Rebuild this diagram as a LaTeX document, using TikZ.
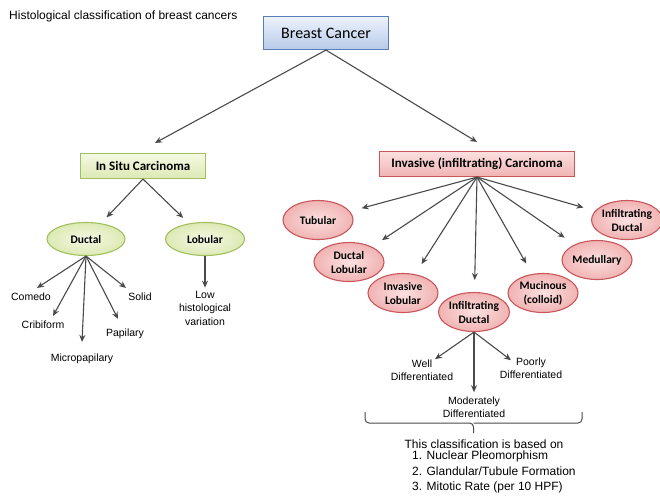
\documentclass[tikz,border=0pt]{standalone}
\usepackage{fontspec}
\setmainfont{Liberation Sans}
\newfontfamily\boxfont{Carlito}
\usepackage{xcolor}
\usepackage{tikz}
\usetikzlibrary{positioning, arrows.meta, shapes.geometric}

\definecolor{arrowgrey}{HTML}{4A4A4A}
\definecolor{bcdraw}{HTML}{5A7DB8}
\definecolor{bctop}{HTML}{EEF3FB}
\definecolor{bcbottom}{HTML}{B6CAEA}
\definecolor{gdraw}{HTML}{A2BF5E}
\definecolor{gtop}{HTML}{F4F9E4}
\definecolor{gbottom}{HTML}{DDE9B4}
\definecolor{pdraw}{HTML}{C9565A}
\definecolor{ptop}{HTML}{FBE0E0}
\definecolor{pbottom}{HTML}{F1B3B3}

\tikzset{
  arr/.style={draw=arrowgrey, line width=1.1pt, -{Stealth[length=7pt,width=6pt]}},
  bluebox/.style={draw=bcdraw, line width=1.1pt, top color=bctop, bottom color=bcbottom,
    minimum width=125pt, minimum height=33pt, inner sep=0pt, font=\boxfont\fontsize{16}{18}\selectfont},
  greenbox/.style={draw=gdraw, line width=1.1pt, top color=gtop, bottom color=gbottom,
    minimum width=125pt, minimum height=25pt, inner sep=0pt, font=\boxfont\bfseries\fontsize{13}{15}\selectfont},
  pinkbox/.style={draw=pdraw, line width=1.1pt, top color=ptop, bottom color=pbottom,
    minimum width=195pt, minimum height=25pt, inner sep=0pt, font=\boxfont\bfseries\fontsize{13}{15}\selectfont},
  greenoval/.style={ellipse, draw=gdraw, line width=1.1pt, inner color=gtop, outer color=gbottom,
    minimum width=78pt, minimum height=33pt, inner sep=0pt, font=\boxfont\bfseries\fontsize{11.5}{14}\selectfont},
  pinkoval/.style={ellipse, draw=pdraw, line width=1.1pt, inner color=ptop, outer color=pbottom,
    minimum width=70pt, minimum height=39pt, inner sep=0pt, align=center,
    font=\boxfont\bfseries\fontsize{11.5}{14}\selectfont},
  leaf/.style={inner sep=1pt, align=center, font=\fontsize{10.5}{13.5}\selectfont},
}

\begin{document}
\begin{tikzpicture}[x=1pt, y=-1pt]
  \useasboundingbox (0,0) rectangle (660,499);

  \node[anchor=west, inner sep=0pt, font=\fontsize{12}{14}\selectfont] (title) at (9,16)
      {Histological classification of breast cancers};

  % top levels
  \node[bluebox] (bc) at (326,33) {Breast Cancer};
  \node[greenbox] (insitu) at (143,166) {In Situ Carcinoma};
  \node[pinkbox] (inv) at (477,164) {Invasive (infiltrating) Carcinoma};

  \draw[arr] (bc.south) -- ([xshift=12pt,yshift=10pt]insitu.north);
  \draw[arr] (bc.south) -- ([yshift=9pt]inv.north);

  % in situ branch
  \node[greenoval] (ductal) at (86,239) {Ductal};
  \node[greenoval, minimum width=79pt] (lobular) at (205,239) {Lobular};

  \draw[arr, shorten >=8pt] (insitu.south) -- (ductal);
  \draw[arr, shorten >=8pt] (insitu.south) -- (lobular);

  \node[leaf] (comedo) at (31,297) {Comedo};
  \node[leaf] (cribiform) at (43,325) {Cribiform};
  \node[leaf] (micro) at (82,359) {Micropapilary};
  \node[leaf] (papilary) at (125,334) {Papilary};
  \node[leaf] (solid) at (140,297) {Solid};
  \node[leaf] (low) at (205,308) {Low\\histological\\variation};

  \draw[arr] (ductal.south) -- ([xshift=6pt,yshift=4pt]comedo.north);
  \draw[arr] (ductal.south) -- ([xshift=10pt,yshift=4pt]cribiform.north);
  \draw[arr] (ductal.south) -- ([yshift=11pt]micro.north);
  \draw[arr] (ductal.south) -- ([xshift=-7pt,yshift=9pt]papilary.north);
  \draw[arr] (ductal.south) -- ([xshift=-14pt,yshift=4pt]solid.north);
  \draw[arr] (lobular.south) -- ([yshift=2pt]low.north);

  % invasive branch
  \node[pinkoval] (tubular) at (318,220) {Tubular};
  \node[pinkoval] (ductlob) at (349,262) {Ductal\\Lobular};
  \node[pinkoval] (invlob) at (403,293) {Invasive\\Lobular};
  \node[pinkoval] (infduct) at (474,312) {Infiltrating\\Ductal};
  \node[pinkoval] (mucinous) at (543,293) {Mucinous\\(colloid)};
  \node[pinkoval] (medullary) at (597,260) {Medullary};
  \node[pinkoval, minimum width=66pt] (infduct2) at (627,220) {Infiltrating\\Ductal};

  \foreach \target in {tubular, ductlob, invlob, infduct, mucinous, medullary, infduct2}
    \draw[arr, shorten >=12pt] (inv.south) -- (\target);

  \node[leaf] (well) at (422,370) {Well\\Differentiated};
  \node[leaf] (moderate) at (474,407) {Moderately\\Differentiated};
  \node[leaf] (poorly) at (531,368) {Poorly\\Differentiated};

  \draw[arr] (infduct.south) -- ([xshift=13pt,yshift=-1pt]well.north);
  \draw[arr] (infduct.south) -- ([yshift=3pt]moderate.north);
  \draw[arr] (infduct.south) -- ([xshift=-20pt,yshift=-4pt]poorly.north);

  % brace and note
  \draw[arrowgrey, line width=1pt, rounded corners=4pt]
      (365,412) |- (473.5,423) -- (473.5,433);
  \draw[arrowgrey, line width=1pt, rounded corners=4pt]
      (473.5,423) -| (582,412);

  \node[inner sep=0pt, font=\fontsize{12}{15}\selectfont] (note) at (484,444)
      {This classification is based on};
  \node[anchor=north west, inner sep=0pt, align=left, font=\fontsize{12}{15.5}\selectfont] (criteria)
      at (412,451) {1. Nuclear Pleomorphism\\2. Glandular/Tubule Formation\\3. Mitotic Rate (per 10 HPF)};
\end{tikzpicture}
\end{document}
